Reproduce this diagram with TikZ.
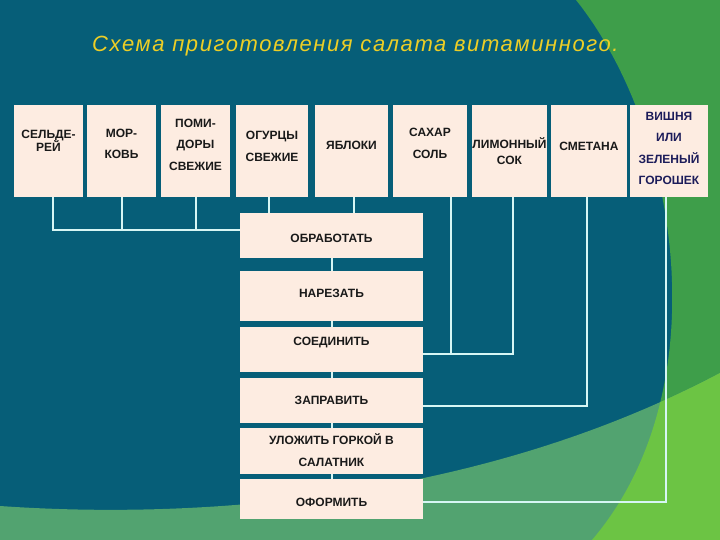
\documentclass[tikz,border=0pt]{standalone}
\usepackage{fontspec}
\setmainfont{Liberation Sans}
\definecolor{seateal}{RGB}{6,94,120}
\definecolor{leafgreen}{RGB}{62,158,74}
\definecolor{limegreen}{RGB}{108,196,68}
\definecolor{sagegreen}{RGB}{82,163,112}
\definecolor{cream}{RGB}{253,236,225}
\definecolor{wire}{RGB}{214,246,244}
\definecolor{gold}{RGB}{236,206,38}
\definecolor{navy}{RGB}{28,28,90}
\tikzset{
  ingr/.style={fill=cream, minimum height=92pt, inner sep=0pt},
  stage/.style={fill=cream, minimum width=183pt, inner sep=0pt},
  lbl/.style={font=\fontsize{12}{21.5}\selectfont\bfseries, align=center, text=black!90},
  link/.style={draw=wire, line width=2pt}
}

\begin{document}
\begin{tikzpicture}[x=1pt, y=-1pt]
\useasboundingbox (0,0) rectangle (720,540);

% background
\fill[seateal] (0,0) rectangle (720,540);
\fill[leafgreen] (576,0) .. controls (680,130) and (720,390) .. (592,540) -- (720,540) -- (720,0) -- cycle;
\fill[sagegreen] (0,506) .. controls (200,520) and (480,500) .. (720,373) -- (720,540) -- (0,540) -- cycle;
\begin{scope}
\clip (576,0) .. controls (680,130) and (720,390) .. (592,540) -- (720,540) -- (720,0) -- cycle;
\fill[limegreen] (0,506) .. controls (200,520) and (480,500) .. (720,373) -- (720,540) -- (0,540) -- cycle;
\end{scope}

% title
\node[anchor=base west, inner sep=0pt, text=gold, font=\fontsize{22}{26}\selectfont\itshape\addfontfeature{LetterSpace=7.3}] (title) at (92,52) {Схема приготовления салата витаминного.};

% ingredients
\node[ingr, minimum width=69, label={[lbl, yshift=10.5pt]center:{СЕЛЬДЕ-\\[-8.5pt]РЕЙ}}] (cel) at (48.5,151) {};
\node[ingr, minimum width=69, label={[lbl, yshift=7pt]center:{МОР-\\КОВЬ}}] (mor) at (121.5,151) {};
\node[ingr, minimum width=69, label={[lbl, yshift=6.5pt]center:{ПОМИ-\\ДОРЫ\\СВЕЖИЕ}}] (pom) at (195.5,151) {};
\node[ingr, minimum width=72, label={[lbl, yshift=4.5pt]center:{ОГУРЦЫ\\СВЕЖИЕ}}] (ogu) at (272,151) {};
\node[ingr, minimum width=73, label={[lbl, yshift=6pt]center:ЯБЛОКИ}] (jab) at (351.5,151) {};
\node[ingr, minimum width=74, label={[lbl, yshift=7.5pt]center:{САХАР\\СОЛЬ}}] (sah) at (430,151) {};
\node[ingr, minimum width=75, label={[lbl]center:{ЛИМОННЫЙ\\[-5.5pt]СОК}}] (lim) at (509.5,151) {};
\node[ingr, minimum width=76, label={[lbl, yshift=5pt]center:СМЕТАНА}] (sme) at (589,151) {};
\node[ingr, minimum width=78, label={[lbl, text=navy, yshift=2.5pt]center:{ВИШНЯ\\ИЛИ\\ЗЕЛЕНЫЙ\\ГОРОШЕК}}] (vis) at (669,151) {};

% stages
\node[stage, minimum height=45, label={[lbl, yshift=-2.5pt]center:ОБРАБОТАТЬ}] (obr) at (331.5,235.5) {};
\node[stage, minimum height=50, label={[lbl, yshift=3pt]center:НАРЕЗАТЬ}] (nar) at (331.5,296) {};
\node[stage, minimum height=45, label={[lbl, yshift=6.5pt]center:СОЕДИНИТЬ}] (soe) at (331.5,349.5) {};
\node[stage, minimum height=45, label={[lbl]center:ЗАПРАВИТЬ}] (zap) at (331.5,400.5) {};
\node[stage, minimum height=46, label={[lbl, yshift=1pt]center:{УЛОЖИТЬ ГОРКОЙ В\\САЛАТНИК}}] (ulo) at (331.5,451) {};
\node[stage, minimum height=40, label={[lbl, yshift=-3pt]center:ОФОРМИТЬ}] (ofo) at (331.5,499) {};

% connectors
\coordinate (join) at ([yshift=5.5pt]obr.west);
\coordinate (soeR) at ([yshift=-4.5pt]soe.east);
\draw[link] ([xshift=4.5pt]cel.south) |- (join);
\draw[link] (mor.south) -- (mor.south |- join);
\draw[link] (pom.south) -- (pom.south |- join);
\draw[link] ([xshift=-3.5pt]ogu.south) -- ([xshift=-3.5pt]ogu.south |- obr.north);
\draw[link] ([xshift=2.5pt]jab.south) -- ([xshift=2.5pt]jab.south |- obr.north);
\draw[link] (obr) -- (nar);
\draw[link] (nar) -- (soe);
\draw[link] (soe) -- (zap);
\draw[link] (zap) -- (ulo);
\draw[link] (ulo) -- (ofo);
\draw[link] ([xshift=20.5pt]sah.south) -- ([xshift=20.5pt]sah.south |- soeR);
\draw[link] ([xshift=3.5pt]lim.south) |- (soeR);
\draw[link] ([xshift=-2pt]sme.south) |- ([yshift=-5.5pt]zap.east);
\draw[link] ([xshift=-3.5pt]vis.south) |- ([yshift=-3pt]ofo.east);

\end{tikzpicture}
\end{document}
